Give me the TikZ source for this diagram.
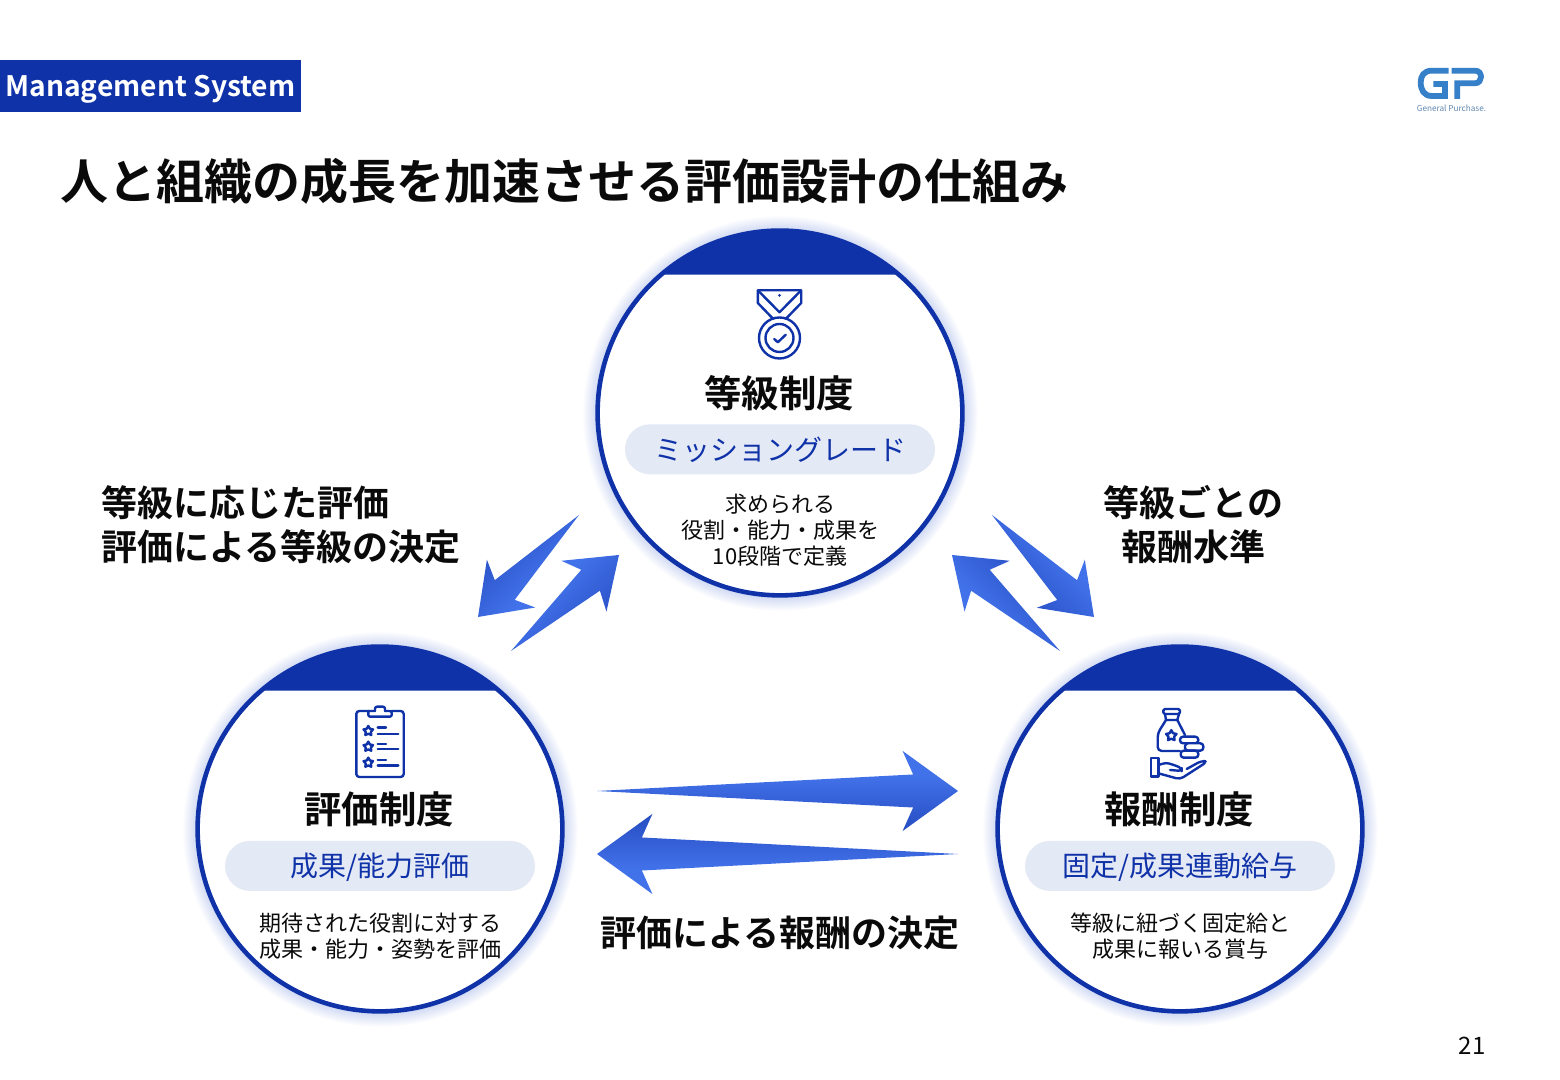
\documentclass[tikz,border=0pt]{standalone}
\usepackage{fontspec}
\usepackage{xcolor}
\usepackage{tikz}
\usetikzlibrary{arrows.meta, positioning, calc, backgrounds}
\setmainfont[BoldFont={Noto Sans CJK JP Bold}]{Noto Sans CJK JP}
\definecolor{gpBlue}{HTML}{0F32A8}
\definecolor{gpPill}{HTML}{E4E9F6}
\definecolor{gpGlow}{HTML}{CBD5F2}
\definecolor{gpLogo}{HTML}{3580C8}
\definecolor{gpLogoText}{HTML}{5F87B0}
\definecolor{gpInk}{HTML}{0A0A0A}
\definecolor{gpArrowDark}{HTML}{1238A8}
\definecolor{gpArrowMid}{HTML}{2F58CE}
\definecolor{gpArrowLight}{HTML}{4272EA}
\pgfdeclareverticalshading{arrowshade}{100bp}{color(0bp)=(gpArrowDark); color(36bp)=(gpArrowMid); color(60bp)=(gpArrowLight); color(100bp)=(gpArrowLight)}
\pgfdeclareradialshading{glowshade}{\pgfpoint{0cm}{0cm}}{color(0bp)=(gpGlow); color(23bp)=(gpGlow); color(25bp)=(white); color(50bp)=(white)}
\newcommand{\taperarrow}[4]{%
  \shade[shading=arrowshade, shading angle=#3] (#1)
    -- ($(#2)!#4*19pt!(#1)!#4*7pt!-90:(#1)$)
    -- ($(#2)!#4*23.5pt!(#1)!#4*17pt!-90:(#1)$)
    -- (#2)
    -- ($(#2)!#4*23.5pt!(#1)!#4*17pt!90:(#1)$)
    -- ($(#2)!#4*19pt!(#1)!#4*7pt!90:(#1)$) -- cycle;}
\newcommand{\iconstar}[3]{%
  \draw[iconline] (#1,#2) +(90:#3) -- +(126:.55*#3) -- +(162:#3) -- +(198:.55*#3) -- +(234:#3)
    -- +(270:.55*#3) -- +(306:#3) -- +(342:.55*#3) -- +(18:#3) -- +(54:.55*#3) -- cycle;}
\tikzset{
  x=0.5pt, y=0.5pt,
  iconline/.style={draw=gpBlue, line width=1.2pt, line join=round, line cap=round},
  ringnode/.style={circle, draw=gpBlue, fill=white, line width=2.3pt, minimum size=182.4pt, inner sep=0pt, outer sep=0pt},
  headtext/.style={font=\fontsize{18.7pt}{22pt}\selectfont\bfseries, text=gpInk, inner sep=0pt, text height=16pt, text depth=2.5pt},
  pilltext/.style={rectangle, fill=gpPill, rounded corners=12.5pt, minimum width=155pt, minimum height=25pt,
                   inner sep=0pt, font=\fontsize{14pt}{16pt}\selectfont, text=gpBlue, text height=13pt, text depth=2pt},
  bodytext/.style={align=center, inner sep=0pt, text=gpInk, font=\fontsize{11pt}{13pt}\selectfont},
  flowlabel/.style={inner sep=0pt, text=gpInk, font=\fontsize{18pt}{22pt}\selectfont\bfseries},
  medal/.pic={
    \draw[iconline] (-21.7,35) -- (-21.7,47.7) -- (21.7,47.7) -- (21.7,35) -- (6.5,19.3);
    \draw[iconline] (-21.7,35) -- (-6.5,19.3);
    \draw[iconline] (-21,47) -- (0,25.7) -- (21,47);
    \fill[gpBlue] (0,42.7) circle (1.5);
    \draw[iconline] (0,0) circle (20.5);
    \draw[iconline] (0,0) circle (14);
    \draw[iconline] (-5.3,-1) -- (-1.7,-4.3) -- (6.3,3.3);
  },
  clipboard/.pic={
    \draw[iconline, rounded corners=1.5pt] (-11.7,33) -- (-23.7,33) -- (-23.7,-33) -- (23.7,-33) -- (23.7,33) -- (11.7,33);
    \draw[iconline, rounded corners=1pt] (-5,33) -- (-5,37.3) -- (5,37.3) -- (5,33);
    \draw[iconline, rounded corners=1pt] (-11.7,33) -- (-11.7,27.3) -- (11.7,27.3) -- (11.7,33) -- (5,33) (-5,33) -- (-11.7,33);
    \iconstar{-11.7}{13}{5}
    \iconstar{-11.7}{-2.7}{5}
    \iconstar{-11.7}{-18.7}{5}
    \draw[iconline] (-2.3,16.3) -- (6,16.3) (-2.3,10) -- (18.3,10);
    \draw[iconline] (-2.3,0) -- (6,0) (-2.3,-5.3) -- (18.3,-5.3);
    \draw[iconline] (-2.3,-16) -- (6,-16) (-2.3,-21.7) -- (18.3,-21.7);
  },
  moneybag/.pic={
    \draw[iconline, rounded corners=.8pt] (-16.7,30) rectangle (0,35);
    \draw[iconline] (-15,30) -- (-14,24) -- (-2.7,24) -- (-1,30);
    \draw[iconline, rounded corners=2pt] (-14,24) -- (-22.3,10.7) -- (-22.3,-7) -- (0,-7);
    \draw[iconline] (-2.7,24) -- (5,9);
    \iconstar{-8.7}{8.3}{5.5}
    \draw[iconline, fill=white, rounded corners=1.5pt] (0,.7) rectangle (18.3,7.3);
    \draw[iconline, fill=white, rounded corners=1.5pt] (5,-6.7) rectangle (23.3,.7);
    \draw[iconline, fill=white, rounded corners=1.5pt] (.7,-13.7) rectangle (18.3,-6.7);
    \draw[iconline] (-29.3,-14.3) rectangle (-21.7,-32.7);
    \draw[iconline, rounded corners=1.5pt] (-21.7,-21) -- (-13.3,-18.7) -- (-3.3,-22) -- (1.7,-24.3) -- (1.7,-27) -- (-10,-26);
    \draw[iconline, rounded corners=2pt] (-21.7,-29.3) -- (0,-35.3) -- (27.3,-17.7) -- (21.7,-16.7) -- (6.7,-25);
  },
  gplogo/.pic={
    \draw[gpLogo, line width=2.9pt] (1448.7,1009.3) -- (1431.7,1009.3) .. controls (1424,1009.3) and (1420.7,1004) .. (1420.7,997.7)
      .. controls (1420.7,990) and (1424,984) .. (1431.7,984) -- (1445,984) -- (1445,996) -- (1433.3,996);
    \draw[gpLogo, line width=2.9pt] (1457.3,981) -- (1457.3,996.7) -- (1475,996.7) .. controls (1479,996.7) and (1481,1000) .. (1481,1003)
      .. controls (1481,1006.5) and (1479,1009.3) .. (1475,1009.3) -- (1451.7,1009.3);
  },
}
\begin{document}
\begin{tikzpicture}
\useasboundingbox (0,0) rectangle (1560,1080);

% page furniture
\node[rectangle, fill=gpBlue, minimum width=150.5pt, minimum height=26pt, inner sep=0pt, text=white,
      text height=14pt, text depth=3pt, font=\fontsize{14.1pt}{16pt}\selectfont\bfseries] (badge) at (150.5,994) {Management System};
\node[anchor=west, inner sep=0pt, text=gpInk, font=\fontsize{24pt}{28pt}\selectfont\bfseries] (title) at (60,899) {人と組織の成長を加速させる評価設計の仕組み};
\pic (logo) at (0,0) {gplogo};
\node[inner sep=0pt, text=gpLogoText, font=\fontsize{4.1pt}{5pt}\selectfont] (logotext) at (1451.5,972) {General Purchase.};
\node[inner sep=0pt, text=gpInk, font=\fontsize{12pt}{14pt}\selectfont] (pageno) at (1472,34) {21};

% three rings
\node[ringnode] (grade) at (780,667) {};
\node[ringnode] (eval) at (380,251) {};
\node[ringnode] (pay) at (1180,251) {};
\begin{scope}[on background layer]
\shade[shading=glowshade] (grade.center) circle (198);
\shade[shading=glowshade] (eval.center) circle (198);
\shade[shading=glowshade] (pay.center) circle (198);
\end{scope}
\fill[gpBlue] (grade.center) ++(130.6:182.4) arc[start angle=130.6, end angle=49.4, radius=182.4] -- cycle;
\fill[gpBlue] (eval.center) ++(130.6:182.4) arc[start angle=130.6, end angle=49.4, radius=182.4] -- cycle;
\fill[gpBlue] (pay.center) ++(130.6:182.4) arc[start angle=130.6, end angle=49.4, radius=182.4] -- cycle;

\pic (gradeicon) at (779.5,742) {medal};
\pic (evalicon) at (380,336) {clipboard};
\pic (payicon) at (1180,336) {moneybag};

\node[headtext] (gradehead) at (779,686) {等級制度};
\node[pilltext, below=5.5pt of gradehead.south -| grade.center] (gradepill) {ミッショングレード};
\node[bodytext, below=9.5pt of gradepill] (gradebody) {求められる\\役割・能力・成果を\\10段階で定義};

\node[headtext] (evalhead) at (379,270) {評価制度};
\node[pilltext, below=5.8pt of evalhead.south -| eval.center] (evalpill) {成果/能力評価};
\node[bodytext, below=10.5pt of evalpill] (evalbody) {期待された役割に対する\\成果・能力・姿勢を評価};

\node[headtext] (payhead) at (1179,270) {報酬制度};
\node[pilltext, below=5.8pt of payhead.south -| pay.center] (paypill) {固定/成果連動給与};
\node[bodytext, below=10.5pt of paypill] (paybody) {等級に紐づく固定給と\\成果に報いる賞与};

% labels
\node[flowlabel, align=left, anchor=west] (leftlabel) at (101.5,555) {等級に応じた評価\\評価による等級の決定};
\node[flowlabel, align=center] (rightlabel) at (1193.5,555) {等級ごとの\\報酬水準};
\node[flowlabel] (bottomlabel) at (780,147) {評価による報酬の決定};

% arrows
\coordinate (gradeEvalTail) at (579,565);
\coordinate (gradeEvalTip) at (478,463);
\coordinate (evalGradeTail) at (511,429);
\coordinate (evalGradeTip) at (619,525);
\coordinate (gradePayTail) at (992,565);
\coordinate (gradePayTip) at (1094,463);
\coordinate (payGradeTail) at (1060,429);
\coordinate (payGradeTip) at (952,525);
\coordinate (evalPayTail) at (597,289);
\coordinate (evalPayTip) at (958,289);
\coordinate (payEvalTail) at (958,226);
\coordinate (payEvalTip) at (597,226);
\taperarrow{gradeEvalTail}{gradeEvalTip}{225}{1}
\taperarrow{evalGradeTail}{evalGradeTip}{45}{1}
\taperarrow{gradePayTail}{gradePayTip}{-45}{1}
\taperarrow{payGradeTail}{payGradeTip}{135}{1}
\taperarrow{evalPayTail}{evalPayTip}{0}{1.18}
\taperarrow{payEvalTail}{payEvalTip}{180}{1.18}
\end{tikzpicture}
\end{document}
